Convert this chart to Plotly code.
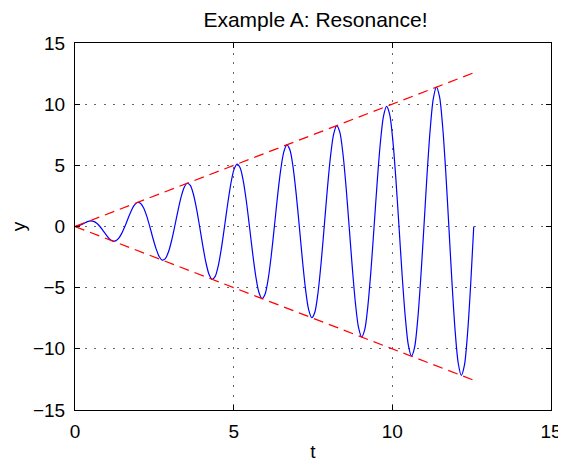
import plotly.graph_objects as go

t = [0, 0.098, 0.196, 0.295, 0.393, 0.491, 0.589, 0.687, 0.785, 0.884, 0.982, 1.080,
     1.178, 1.276, 1.374, 1.473, 1.571, 1.669, 1.767, 1.865, 1.963, 2.062, 2.160, 2.258,
     2.356, 2.454, 2.553, 2.651, 2.749, 2.847, 2.945, 3.043, 3.142, 3.240, 3.338, 3.436,
     3.534, 3.633, 3.731, 3.829, 3.927, 4.025, 4.123, 4.222, 4.320, 4.418, 4.516, 4.614,
     4.712, 4.811, 4.909, 5.007, 5.105, 5.203, 5.301, 5.400, 5.498, 5.596, 5.694, 5.792,
     5.890, 5.989, 6.087, 6.185, 6.283, 6.381, 6.480, 6.578, 6.676, 6.774, 6.872, 6.970,
     7.069, 7.167, 7.265, 7.363, 7.461, 7.560, 7.658, 7.756, 7.854, 7.952, 8.050, 8.149,
     8.247, 8.345, 8.443, 8.541, 8.639, 8.738, 8.836, 8.934, 9.032, 9.130, 9.228, 9.327,
     9.425, 9.523, 9.621, 9.719, 9.817, 9.916, 10.014, 10.112, 10.210, 10.308, 10.407, 10.505,
     10.603, 10.701, 10.799, 10.897, 10.996, 11.094, 11.192, 11.290, 11.388, 11.487, 11.585, 11.683,
     11.781, 11.879, 11.977, 12.076, 12.174, 12.272, 12.370, 12.468, 12.566]
y = [0, 0.038, 0.139, 0.272, 0.393, 0.454, 0.416, 0.263, 0, -0.338, -0.694, -0.998,
     -1.178, -1.179, -0.972, -0.564, 0, 0.639, 1.249, 1.723, 1.963, 1.905, 1.527, 0.864,
     0, -0.939, -1.805, -2.449, -2.749, -2.630, -2.083, -1.165, 0, 1.240, 2.360, 3.174,
     3.534, 3.356, 2.638, 1.465, 0, -1.540, -2.916, -3.900, -4.320, -4.081, -3.193, -1.766,
     0, 1.841, 3.471, 4.626, 5.105, 4.807, 3.749, 2.066, 0, -2.141, -4.026, -5.351,
     -5.890, -5.533, -4.304, -2.367, 0, 2.442, 4.582, 6.077, 6.676, 6.258, 4.859, 2.667,
     0, -2.743, -5.137, -6.803, -7.461, -6.985, -5.415, -2.968, 0, 3.043, 5.692, 7.529,
     8.247, 7.710, 5.970, 3.269, 0, -3.344, -6.248, -8.254, -9.032, -8.435, -6.525, -3.569,
     0, 3.644, 6.803, 8.979, 9.817, 9.161, 7.081, 3.870, 0, -3.945, -7.359, -9.705,
     -10.603, -9.887, -7.636, -4.170, 0, 4.246, 7.914, 10.431, 11.388, 10.613, 8.192, 4.471,
     0, -4.546, -8.469, -11.157, -12.174, -11.338, -8.747, -4.771, 0]

env_t = [0, 12.566]
env_upper = [0, 12.566]
env_lower = [0, -12.566]

y_ticks = [-15, -10, -5, 0, 5, 10, 15]
x_ticks = [0, 5, 10, 15]

fig = go.Figure()
fig.add_trace(go.Scatter(x=t, y=y, mode="lines",
                         line=dict(color="#0000ff", width=1.2, shape="spline", smoothing=0.8)))
fig.add_trace(go.Scatter(x=env_t, y=env_upper, mode="lines",
                         line=dict(color="#ff0000", width=1.2, dash="10px,6px")))
fig.add_trace(go.Scatter(x=env_t, y=env_lower, mode="lines",
                         line=dict(color="#ff0000", width=1.2, dash="10px,6px")))

font = "Liberation Sans, Arial, sans-serif"
axis_common = dict(showline=True, linecolor="black", linewidth=1, mirror="ticks",
                   ticks="inside", ticklen=5, tickcolor="black", automargin=False,
                   showgrid=True, gridcolor="#666666", griddash="2px,7.5px", gridwidth=1,
                   zeroline=False, tickfont=dict(family=font, size=19, color="black"))

fig.update_layout(
    width=558, height=454,
    margin=dict(l=67, r=15, t=35, b=52),
    paper_bgcolor="white", plot_bgcolor="white",
    showlegend=False,
    title=dict(text="Example A: Resonance!", x=0.551, xanchor="center", y=0.974, yanchor="middle",
               font=dict(family=font, size=21, color="black")),
    xaxis=dict(range=[0, 15], tickvals=x_ticks, ticklabelstandoff=4,
               title=dict(text="t", standoff=4, font=dict(family=font, size=19, color="black")),
               **axis_common),
    yaxis=dict(range=[-15, 15], tickvals=y_ticks, ticklabelstandoff=5,
               title=dict(text="y", standoff=11, font=dict(family=font, size=19, color="black")),
               **axis_common),
)
fig.write_html("out.html")
